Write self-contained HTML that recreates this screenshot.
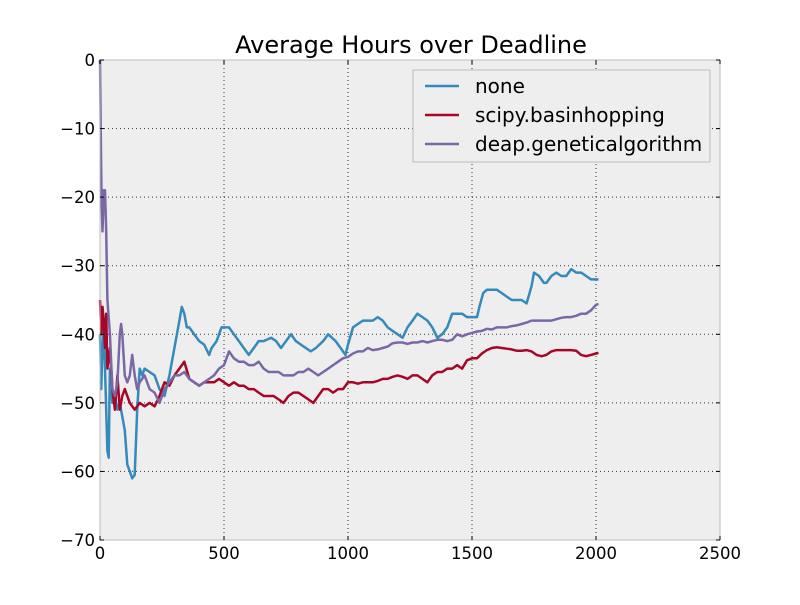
<!DOCTYPE html>
<html><head><meta charset="utf-8"><style>
body{margin:0;background:#fff;}
svg{font-family:"DejaVu Sans","Liberation Sans",sans-serif;}
</style></head><body>
<svg id="c" width="800" height="600" xmlns="http://www.w3.org/2000/svg"></svg>
<script>
const xTicks=[0,500,1000,1500,2000,2500];
const yTicks=[0,-10,-20,-30,-40,-50,-60,-70];
const seriesNames=["none","scipy.basinhopping","deap.geneticalgorithm"];
const seriesColors=["#348abd","#a60628","#7a68a6"];
const noneX=[0,5,10,15,20,30,35,40,50,60,70,80,90,100,110,120,130,140,150,160,170,180,200,220,240,260,280,290,300,310,320,330,340,350,360,380,400,420,440,450,470,480,490,520,540,560,580,600,620,640,660,690,710,730,750,770,790,810,830,850,870,900,920,950,970,990,1000,1020,1040,1060,1080,1100,1120,1140,1160,1180,1200,1220,1240,1260,1280,1300,1320,1340,1360,1380,1400,1410,1420,1440,1460,1480,1500,1520,1530,1545,1560,1580,1600,1620,1640,1660,1680,1700,1720,1740,1750,1770,1790,1800,1820,1840,1860,1880,1900,1920,1940,1960,1980,2000,2010];
const noneY=[-40,-48,-42,-38,-45,-57,-58,-45,-50,-49,-51,-50,-52,-54,-59,-60,-61,-60.5,-51,-45,-46,-45,-45.5,-46,-48,-49,-46,-44,-42,-40,-38,-36,-37,-39,-39,-40,-41,-41.5,-43,-42,-41,-40,-39,-39,-40,-41,-42,-43,-42,-41,-41,-40.5,-41,-42,-41,-40,-41,-41.5,-42,-42.5,-42,-41,-40,-41,-42,-43,-41.5,-39,-38.5,-38,-38,-38,-37.5,-38,-39,-39.5,-40,-40.5,-39,-38,-37,-37.5,-38,-39,-40.5,-40,-39,-38,-37,-37,-37,-37.5,-37.5,-37.5,-36,-34,-33.5,-33.5,-33.5,-34,-34.5,-35,-35,-35,-35.5,-33,-31,-31.5,-32.5,-32.5,-31.5,-31,-31.5,-31.5,-30.5,-31,-31,-31.5,-32,-32,-32];
const scipyX=[0,5,10,15,20,25,30,40,50,60,70,80,90,100,120,140,160,180,200,220,240,260,280,300,320,340,360,380,400,420,440,460,480,500,520,540,560,580,600,620,640,660,680,700,720,740,760,780,800,820,840,860,880,900,920,940,960,980,1000,1020,1040,1060,1080,1100,1120,1140,1160,1180,1200,1220,1240,1260,1280,1300,1320,1340,1360,1380,1400,1420,1440,1460,1480,1500,1520,1540,1560,1580,1600,1620,1640,1660,1680,1700,1720,1740,1760,1780,1800,1820,1840,1860,1880,1900,1920,1940,1960,1980,2000,2010];
const scipyY=[-35,-40,-36,-38,-42,-37,-45,-42,-48,-51,-46,-51,-49,-48,-50,-51,-50,-50.5,-50,-50.5,-49,-47,-47.5,-46,-45,-44,-46.5,-47,-47.5,-47,-47,-47,-46.5,-47,-47.5,-47,-47.5,-47.5,-48,-48,-48.5,-49,-49,-49,-49.5,-50,-49,-48.5,-48.5,-49,-49.5,-50,-49,-48,-48,-48.5,-48,-48,-47,-47,-47.2,-47,-47,-47,-46.8,-46.5,-46.5,-46.2,-46,-46.2,-46.5,-46,-46,-46.5,-47,-46,-45.5,-45.5,-45,-45,-44.5,-45,-43.8,-43.5,-43.5,-42.8,-42.3,-42,-41.9,-42,-42.1,-42.2,-42.4,-42.4,-42.3,-42.5,-43,-43.2,-43,-42.5,-42.3,-42.3,-42.3,-42.3,-42.4,-43,-43.2,-43,-42.8,-42.7];
const deapX=[0,3,6,10,15,20,25,30,40,50,60,70,80,85,90,100,110,120,130,140,150,160,180,200,220,240,250,260,280,300,320,340,360,380,400,420,440,460,480,500,520,540,560,580,600,620,640,660,680,700,720,740,760,780,800,820,840,860,880,900,920,940,960,980,1000,1020,1040,1060,1080,1100,1120,1140,1160,1180,1200,1220,1240,1260,1280,1300,1320,1340,1360,1380,1400,1420,1440,1460,1480,1500,1520,1540,1560,1580,1600,1620,1640,1660,1680,1700,1720,1740,1760,1780,1800,1820,1840,1860,1880,1900,1920,1940,1960,1980,2000,2010];
const deapY=[0,-10,-20,-25,-19,-19,-25,-35,-40,-48,-49,-47,-40,-38.5,-40,-46,-47,-46,-43,-46,-48,-47,-46,-48,-48.5,-50,-49,-48,-47,-46,-46,-45.5,-46.5,-47,-47.5,-47,-46.5,-46,-45,-44.5,-42.5,-43.5,-44,-44,-44.5,-44.5,-44,-45,-45.5,-45.5,-45.5,-46,-46,-46,-45.5,-45.5,-45,-45.5,-46,-45.5,-45,-44.5,-44,-43.5,-43.3,-42.8,-42.5,-42.5,-42,-42.3,-42.2,-42,-41.8,-41.3,-41.2,-41.2,-41.4,-41.2,-41.2,-41,-41.2,-41,-40.8,-40.8,-41,-40.8,-40,-40.3,-40,-39.8,-39.6,-39.5,-39.2,-39.3,-39,-39,-39,-38.8,-38.7,-38.5,-38.3,-38,-38,-38,-38,-38,-37.8,-37.6,-37.5,-37.5,-37.3,-37,-37,-36.5,-35.7,-35.6];

const L=100,R=720,T=60,B=540;
const sx=v=>L+(v-0)/2500*(R-L);
const sy=v=>T+(0-v)/70*(B-T);
const NS="http://www.w3.org/2000/svg";
const svg=document.getElementById('c');
function mk(tag,attrs,parent){const e=document.createElementNS(NS,tag);for(const k in attrs)e.setAttribute(k,attrs[k]);(parent||svg).appendChild(e);return e;}

const bg=mk('rect',{x:L,y:T,width:R-L,height:B-T,fill:'#eeeeee'});



const grid=mk('g',{});


xTicks.forEach(t=>{mk('line',{x1:sx(t),x2:sx(t),y1:T,y2:B,stroke:'#333','stroke-width':1,'stroke-dasharray':'1,3'},grid);});
yTicks.forEach(t=>{mk('line',{x1:L,x2:R,y1:sy(t),y2:sy(t),stroke:'#333','stroke-width':1,'stroke-dasharray':'1,3'},grid);});

const xs=[noneX,scipyX,deapX], ys=[noneY,scipyY,deapY];
const names=['series-none','series-scipy-basinhopping','series-deap-geneticalgorithm'];
for(let s=0;s<3;s++){
  const d=xs[s].map((x,i)=>(i?'L':'M')+sx(x).toFixed(1)+','+sy(ys[s][i]).toFixed(1)).join('');
  const p=mk('path',{d:d,fill:'none',stroke:seriesColors[s],'stroke-width':2.5,'stroke-linejoin':'round'});
  
  
}

const frame=mk('rect',{x:L,y:T,width:R-L,height:B-T,fill:'none',stroke:'#bcbcbc','stroke-width':1});



const xa=mk('g',{});


xTicks.forEach(t=>{
  mk('line',{x1:sx(t),x2:sx(t),y1:B,y2:B-4,stroke:'#000'},xa);
  mk('line',{x1:sx(t),x2:sx(t),y1:T,y2:T+4,stroke:'#000'},xa);
  const tx=mk('text',{x:sx(t),y:B+19,'text-anchor':'middle','font-size':16.5,fill:'#000'},xa);
  tx.textContent=t;
  
  
});
const ya=mk('g',{});


yTicks.forEach(t=>{
  mk('line',{x1:L,x2:L+4,y1:sy(t),y2:sy(t),stroke:'#000'},ya);
  mk('line',{x1:R,x2:R-4,y1:sy(t),y2:sy(t),stroke:'#000'},ya);
  const tx=mk('text',{x:L-5,y:sy(t)+6,'text-anchor':'end','font-size':16.5,fill:'#000'},ya);
  tx.textContent=t===0?'0':'\u2212'+Math.abs(t);
  
  
});

const title=mk('text',{x:411,y:53,'text-anchor':'middle','font-size':24,fill:'#000'});
title.textContent='Average Hours over Deadline';



const lg=mk('g',{});


mk('rect',{x:413,y:70,width:297,height:92,fill:'#eeeeee',stroke:'#bcbcbc'},lg);
for(let s=0;s<3;s++){
  const yy=86+s*29;
  const e=mk('g',{},lg);
  
  
  mk('line',{x1:425,x2:459,y1:yy,y2:yy,stroke:seriesColors[s],'stroke-width':2.5},e);
  const tx=mk('text',{x:475,y:yy+7,'font-size':20,fill:'#000'},e);
  tx.textContent=seriesNames[s];
}
</script>
</body></html>
